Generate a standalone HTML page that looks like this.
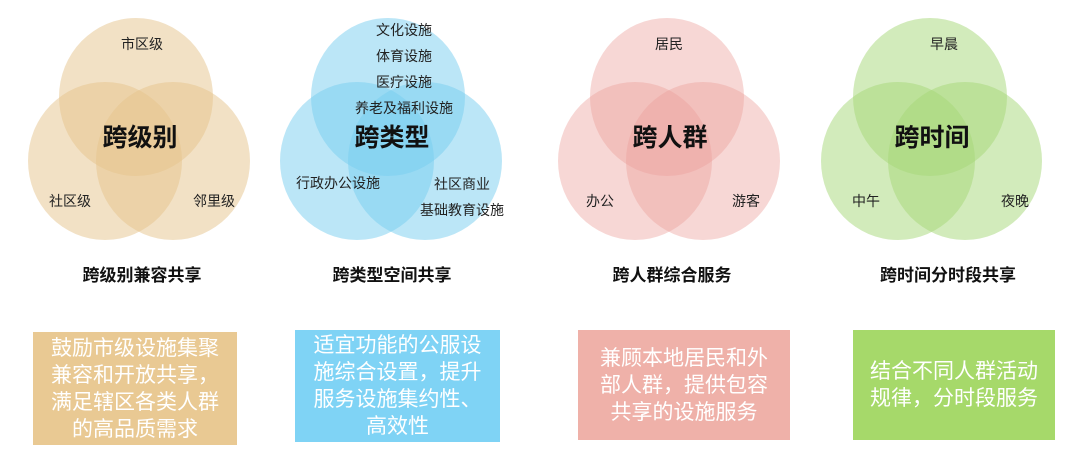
<!DOCTYPE html>
<html><head><meta charset="utf-8"><style>
body{margin:0;width:1080px;height:457px;background:#fff;overflow:hidden;position:relative;font-family:"Liberation Sans","Noto Sans CJK SC",sans-serif;}
.c{position:absolute;width:154px;height:158px;border-radius:50%;}
.t{position:absolute;font-size:14px;color:#222;white-space:nowrap;transform:translateX(-50%);}
.big{position:absolute;font-size:25px;font-weight:bold;color:#111;transform:translateX(-50%);white-space:nowrap;}
.h{position:absolute;top:261px;font-size:17px;font-weight:bold;color:#111;transform:translateX(-50%);white-space:nowrap;}
.b{position:absolute;color:#fff;font-size:21px;line-height:27px;text-align:center;display:flex;align-items:center;justify-content:center;box-sizing:border-box;white-space:nowrap;}
</style></head><body>
<!-- group1 -->
<div class="c" style="left:59px;top:18px;background:rgba(230,195,140,.5)"></div>
<div class="c" style="left:28px;top:82px;background:rgba(230,195,140,.5)"></div>
<div class="c" style="left:96px;top:82px;background:rgba(230,195,140,.5)"></div>
<div class="t" style="left:142px;top:34px">市区级</div>
<div class="big" style="left:140px;top:118px">跨级别</div>
<div class="t" style="left:70px;top:191px">社区级</div>
<div class="t" style="left:214px;top:191px">邻里级</div>
<div class="h" style="left:142px">跨级别兼容共享</div>
<div class="b" style="left:33px;top:332px;width:204px;height:113px;background:#e9c993">鼓励市级设施集聚<br>兼容和开放共享，<br>满足辖区各类人群<br>的高品质需求</div>
<!-- group2 -->
<div class="c" style="left:311px;top:18px;background:rgba(120,205,240,.5)"></div>
<div class="c" style="left:280px;top:82px;background:rgba(120,205,240,.5)"></div>
<div class="c" style="left:348px;top:82px;background:rgba(120,205,240,.5)"></div>
<div class="t" style="left:404px;top:20px">文化设施</div>
<div class="t" style="left:404px;top:46px">体育设施</div>
<div class="t" style="left:404px;top:72px">医疗设施</div>
<div class="t" style="left:404px;top:98px">养老及福利设施</div>
<div class="big" style="left:392px;top:118px">跨类型</div>
<div class="t" style="left:338px;top:173px">行政办公设施</div>
<div class="t" style="left:462px;top:174px">社区商业</div>
<div class="t" style="left:462px;top:200px">基础教育设施</div>
<div class="h" style="left:392px">跨类型空间共享</div>
<div class="b" style="left:295px;top:330px;width:205px;height:112px;background:#7fd3f5">适宜功能的公服设<br>施综合设置，提升<br>服务设施集约性、<br>高效性</div>
<!-- group3 -->
<div class="c" style="left:590px;top:18px;background:rgba(235,160,155,.42)"></div>
<div class="c" style="left:558px;top:82px;background:rgba(235,160,155,.42)"></div>
<div class="c" style="left:626px;top:82px;background:rgba(235,160,155,.42)"></div>
<div class="t" style="left:669px;top:34px">居民</div>
<div class="big" style="left:670px;top:118px">跨人群</div>
<div class="t" style="left:600px;top:191px">办公</div>
<div class="t" style="left:746px;top:191px">游客</div>
<div class="h" style="left:672px">跨人群综合服务</div>
<div class="b" style="left:578px;top:330px;width:212px;height:110px;background:#efb1a9">兼顾本地居民和外<br>部人群，提供包容<br>共享的设施服务</div>
<!-- group4 -->
<div class="c" style="left:853px;top:18px;background:rgba(165,215,120,.5)"></div>
<div class="c" style="left:821px;top:82px;background:rgba(165,215,120,.5)"></div>
<div class="c" style="left:888px;top:82px;background:rgba(165,215,120,.5)"></div>
<div class="t" style="left:944px;top:34px">早晨</div>
<div class="big" style="left:932px;top:118px">跨时间</div>
<div class="t" style="left:866px;top:191px">中午</div>
<div class="t" style="left:1015px;top:191px">夜晚</div>
<div class="h" style="left:948px">跨时间分时段共享</div>
<div class="b" style="left:853px;top:330px;width:202px;height:110px;background:#a6d96a">结合不同人群活动<br>规律，分时段服务</div>
</body></html>
